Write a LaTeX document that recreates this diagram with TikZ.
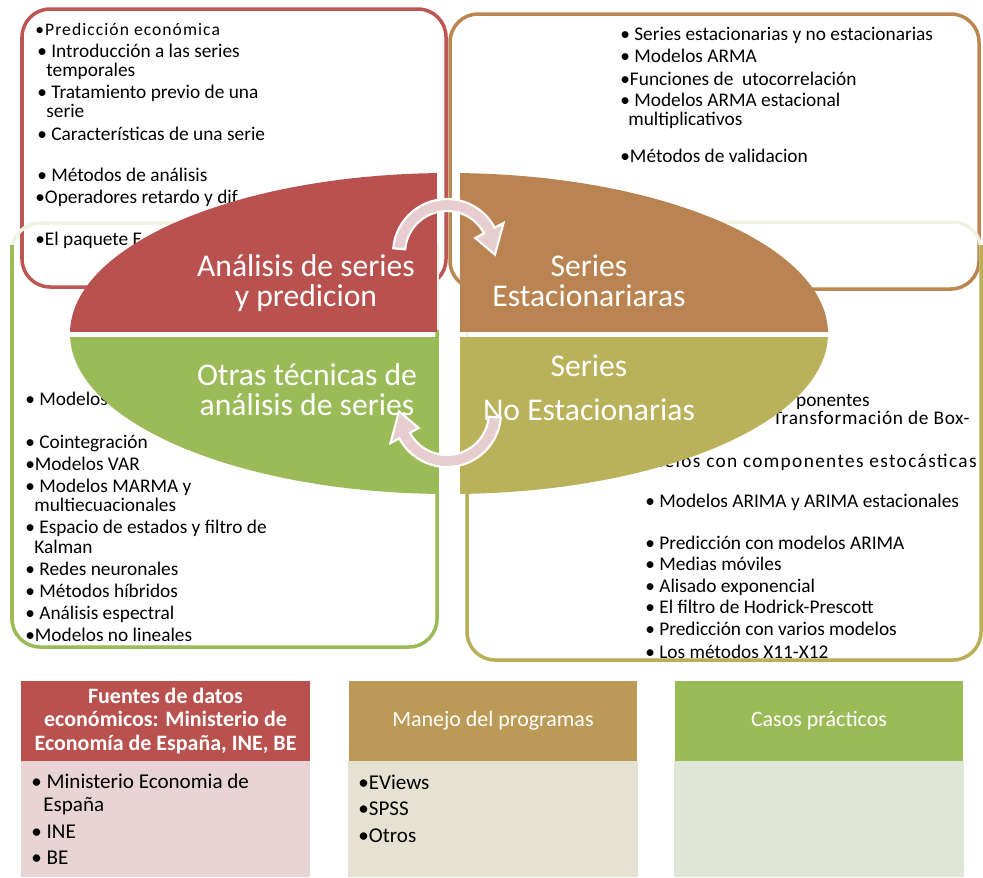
\documentclass[tikz,border=0pt]{standalone}
\usepackage{fontspec}
\setmainfont{Carlito}

\definecolor{redq}{HTML}{B9514F}
\definecolor{brownq}{HTML}{BA8452}
\definecolor{greenq}{HTML}{9BBB59}
\definecolor{oliveq}{HTML}{B9B25B}
\definecolor{redline}{HTML}{BE5654}
\definecolor{brownline}{HTML}{BC8650}
\definecolor{oliveline}{HTML}{B9AF59}
\definecolor{paletop}{HTML}{F1F2E4}
\definecolor{arrowpink}{HTML}{E7CDCD}
\definecolor{hdrbrown}{HTML}{BA9A56}
\definecolor{bodyred}{HTML}{E8D4D4}
\definecolor{bodybrown}{HTML}{E6E2D3}
\definecolor{bodygreen}{HTML}{DFE6D5}

\begin{document}
\begin{tikzpicture}[x=0.02cm,y=-0.02cm,
  itm/.style={anchor=base west,inner sep=0pt,font=\fontsize{11}{13}\selectfont},
  itmr/.style={itm,anchor=base east},
  bitm/.style={anchor=base west,inner sep=0pt,font=\fontsize{12}{14}\selectfont},
  lbl/.style={align=center,text=white,inner sep=0pt,font=\fontsize{18}{17}\selectfont},
  hdr/.style={minimum width=5.78cm,minimum height=1.6cm,inner sep=0pt,align=center,text=white},
  frame/.style={line width=2pt,rounded corners=16pt},
  turnarrow/.style={fill=arrowpink,draw=white,line width=1.2pt}]

  \useasboundingbox (0,0) rectangle (983,877);

  % outer boxes
  \draw[frame,redline] (22,9) rectangle (446,287);
  \draw[frame,brownline] (450,14) rectangle (979,289);
  \draw[frame,paletop] (12,223) rectangle (437,647);
  \draw[frame,greenq] (12,245) -- (12,647) -- (437,647) -- (437,330);
  \draw[frame,paletop] (467,222) rectangle (981,660);
  \draw[frame,oliveline] (981,245) -- (981,660) -- (467,660) -- (467,400);

  % Analisis de series
  \node[itm,font=\fontsize{10}{12}\selectfont\addfontfeatures{LetterSpace=6}] (r1) at (35,35) {•Predicción económica};
  \node[itm] (r2) at (37,57) {• Introducción a las series};
  \node[itm] (r3) at (46,76) {temporales};
  \node[itm] (r4) at (37,98) {• Tratamiento previo de una};
  \node[itm] (r5) at (46,117) {serie};
  \node[itm] (r6) at (37,140) {• Características de una serie};
  \node[itm] (r7) at (37,181) {• Métodos de análisis};
  \node[itm] (r8) at (35,203) {•Operadores retardo y dif};
  \node[itm] (r9) at (35,245) {•El paquete E};

  % Series estacionarias
  \node[itm] (b1) at (620,40) {• Series estacionarias y no estacionarias};
  \node[itm] (b2) at (620,62) {• Modelos ARMA};
  \node[itm] (b3) at (620,85) {•Funciones de \ utocorrelación};
  \node[itm] (b4) at (620,106) {• Modelos ARMA estacional};
  \node[itm] (b5) at (628,125) {multiplicativos};
  \node[itm] (b6) at (620,162) {•Métodos de validacion};

  % Otras tecnicas
  \node[itm] (g1) at (25,405) {• Modelos};
  \node[itm] (g2) at (25,448) {• Cointegración};
  \node[itm] (g3) at (25,470) {•Modelos VAR};
  \node[itm] (g4) at (25,492) {• Modelos MARMA y};
  \node[itm] (g5) at (34,511) {multiecuacionales};
  \node[itm] (g6) at (25,533) {• Espacio de estados y filtro de};
  \node[itm] (g7) at (34,553) {Kalman};
  \node[itm] (g8) at (25,575) {• Redes neuronales};
  \node[itm] (g9) at (25,597) {• Métodos híbridos};
  \node[itm] (g10) at (25,619) {• Análisis espectral};
  \node[itm] (g11) at (25,641) {•Modelos no lineales};

  % Series no estacionarias
  \node[itmr] (o1) at (870,406) {ponentes};
  \node[itmr,font=\fontsize{11}{13}\selectfont\addfontfeatures{LetterSpace=3.5}] (o2) at (970,424) {Transformación de Box-};
  \node[itmr,font=\fontsize{11}{13}\selectfont\addfontfeatures{LetterSpace=7}] (o3) at (977,467) {delos con componentes estocásticas};
  \node[itm] (o4) at (645,507) {• Modelos ARIMA y ARIMA estacionales};
  \node[itm] (o5) at (645,549) {• Predicción con modelos ARIMA};
  \node[itm] (o6) at (645,570) {• Medias móviles};
  \node[itm] (o7) at (645,592) {• Alisado exponencial};
  \node[itm] (o8) at (645,613) {• El filtro de Hodrick-Prescott};
  \node[itm] (o9) at (645,635) {• Predicción con varios modelos};
  \node[itm] (o10) at (645,658) {• Los métodos X11-X12};

  % the four quarters
  \begin{scope}
    \clip (449,333.5) ellipse [x radius=379, y radius=160.5];
    \fill[redq] (0,0) rectangle (437,332);
    \fill[brownq] (460,0) rectangle (983,332);
    \fill[greenq] (0,337) rectangle (437,877);
    \fill[oliveq] (460,337) rectangle (983,877);
  \end{scope}

  \node[lbl] (lblR) at (306,283) {Análisis de series\\y predicion};
  \node[lbl] (lblB) at (589,281) {Series\\Estacionariaras};
  \node[lbl] (lblG) at (307,390) {Otras técnicas de\\análisis de series};
  \node[lbl] (lblO) at (589,388) {Series\\[8pt]No Estacionarias};

  % turning arrows
  \begin{scope}[shift={(447,253)}]
    \filldraw[turnarrow] (185:54) arc[start angle=185,end angle=332,radius=54] -- (332:64) -- (2:48) -- (332:32) -- (332:42) arc[start angle=332,end angle=185,radius=42] -- cycle;
  \end{scope}
  \begin{scope}[shift={(447,413)}]
    \filldraw[turnarrow] (5:54) arc[start angle=5,end angle=152,radius=54] -- (152:64) -- (182:48) -- (152:32) -- (152:42) arc[start angle=152,end angle=5,radius=42] -- cycle;
  \end{scope}

  % bottom lists
  \node[hdr,fill=redq,font=\fontsize{12.5}{13.3}\selectfont\bfseries] (src) at (165.5,721) {Fuentes de datos\\económicos: Ministerio de\\Economía de España, INE, BE};
  \node[hdr,fill=hdrbrown,font=\fontsize{12.5}{14}\selectfont] (prog) at (493,721) {Manejo del programas};
  \node[hdr,fill=greenq,font=\fontsize{12.5}{14}\selectfont] (casos) at (819,721) {Casos prácticos};
  \fill[bodyred] (21,761) rectangle (310,877);
  \fill[bodybrown] (348,761) rectangle (638,877);
  \fill[bodygreen] (674,761) rectangle (964,877);

  \node[bitm] (s1) at (31,788) {• Ministerio Economia de};
  \node[bitm] (s2) at (43,811) {España};
  \node[bitm] (s3) at (31,838) {• INE};
  \node[bitm] (s4) at (31,864) {• BE};
  \node[bitm] (p1) at (358,789) {•EViews};
  \node[bitm] (p2) at (358,815) {•SPSS};
  \node[bitm] (p3) at (358,842) {•Otros};

\end{tikzpicture}
\end{document}
